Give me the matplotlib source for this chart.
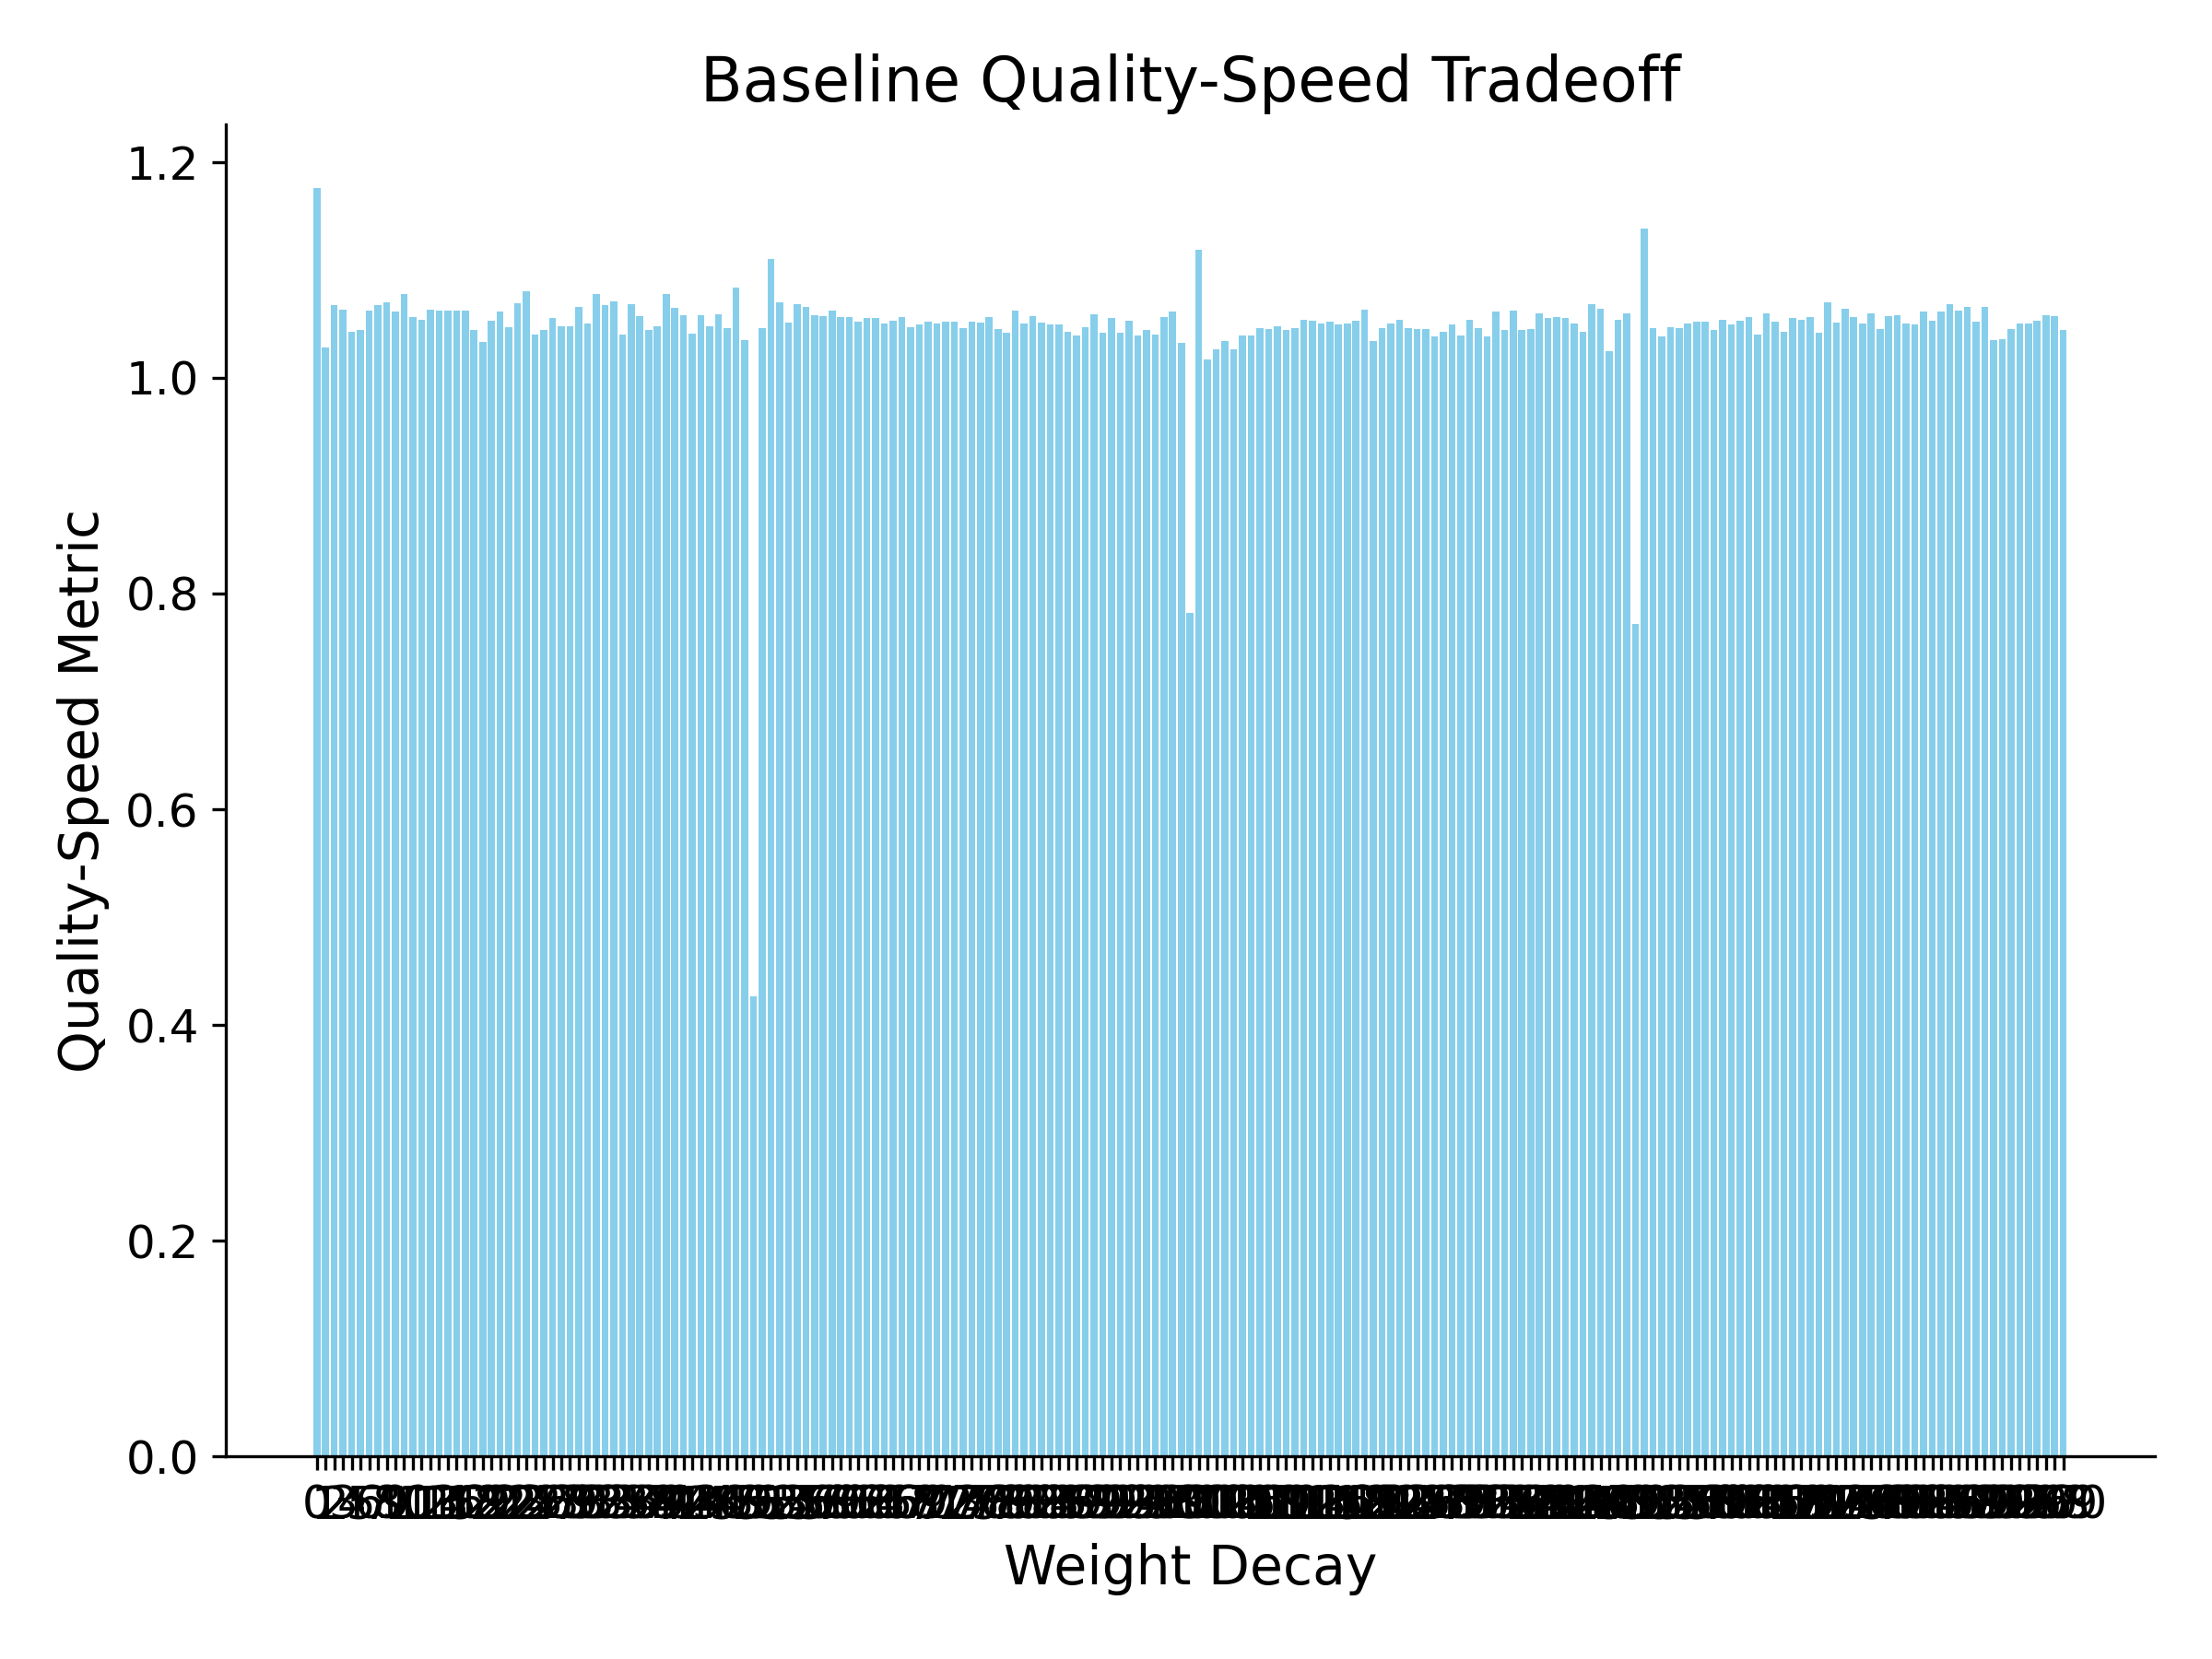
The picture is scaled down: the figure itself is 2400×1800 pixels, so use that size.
import numpy as np
import matplotlib
matplotlib.use("Agg")
import matplotlib.pyplot as plt

# run labels shown on the x axis (one per bar)
labels = [str(i) for i in range(201)]

# quality-speed metric per run
values = [
    1.176, 1.028, 1.067, 1.063, 1.043, 1.044, 1.062, 1.067, 1.070, 1.061,
    1.078, 1.056, 1.054, 1.063, 1.062, 1.062, 1.062, 1.062, 1.044, 1.033,
    1.053, 1.061, 1.047, 1.069, 1.080, 1.040, 1.044, 1.055, 1.048, 1.048,
    1.066, 1.050, 1.078, 1.067, 1.071, 1.040, 1.068, 1.057, 1.044, 1.048,
    1.078, 1.065, 1.058, 1.041, 1.058, 1.048, 1.059, 1.046, 1.084, 1.035,
    0.427, 1.046, 1.110, 1.070, 1.051, 1.068, 1.066, 1.058, 1.057, 1.062,
    1.056, 1.056, 1.052, 1.055, 1.055, 1.050, 1.053, 1.056, 1.047, 1.049,
    1.052, 1.050, 1.052, 1.052, 1.046, 1.052, 1.051, 1.056, 1.045, 1.042,
    1.062, 1.050, 1.057, 1.051, 1.049, 1.049, 1.043, 1.039, 1.047, 1.059,
    1.042, 1.055, 1.042, 1.053, 1.039, 1.044, 1.040, 1.056, 1.061, 1.032,
    0.782, 1.119, 1.017, 1.026, 1.034, 1.026, 1.039, 1.039, 1.046, 1.045,
    1.048, 1.044, 1.046, 1.054, 1.053, 1.050, 1.052, 1.049, 1.050, 1.053,
    1.063, 1.034, 1.046, 1.050, 1.054, 1.046, 1.045, 1.045, 1.038, 1.043,
    1.049, 1.039, 1.054, 1.046, 1.038, 1.061, 1.044, 1.062, 1.044, 1.045,
    1.060, 1.055, 1.056, 1.055, 1.050, 1.043, 1.068, 1.064, 1.025, 1.054,
    1.060, 0.772, 1.138, 1.046, 1.038, 1.047, 1.046, 1.050, 1.052, 1.052,
    1.044, 1.054, 1.049, 1.053, 1.056, 1.040, 1.060, 1.052, 1.043, 1.055,
    1.054, 1.056, 1.042, 1.070, 1.051, 1.064, 1.056, 1.050, 1.060, 1.045,
    1.057, 1.058, 1.050, 1.049, 1.061, 1.053, 1.061, 1.068, 1.062, 1.066,
    1.052, 1.066, 1.035, 1.036, 1.045, 1.050, 1.050, 1.053, 1.058, 1.057,
    1.044,
]

fig, ax = plt.subplots(figsize=(8, 6), dpi=300)

x = np.arange(len(values))
ax.bar(x, values, color="skyblue")
ax.set_xticks(x)
ax.set_xticklabels(labels)
ax.tick_params(axis="both", labelsize=12)

ax.set_xlabel("Weight Decay", fontsize=14)
ax.set_ylabel("Quality-Speed Metric", fontsize=14)
ax.set_title("Baseline Quality-Speed Tradeoff", fontsize=16)

ax.spines["top"].set_visible(False)
ax.spines["right"].set_visible(False)

fig.subplots_adjust(left=0.102, right=0.974, bottom=0.122, top=0.925)
fig.savefig("out.png", dpi=300)
